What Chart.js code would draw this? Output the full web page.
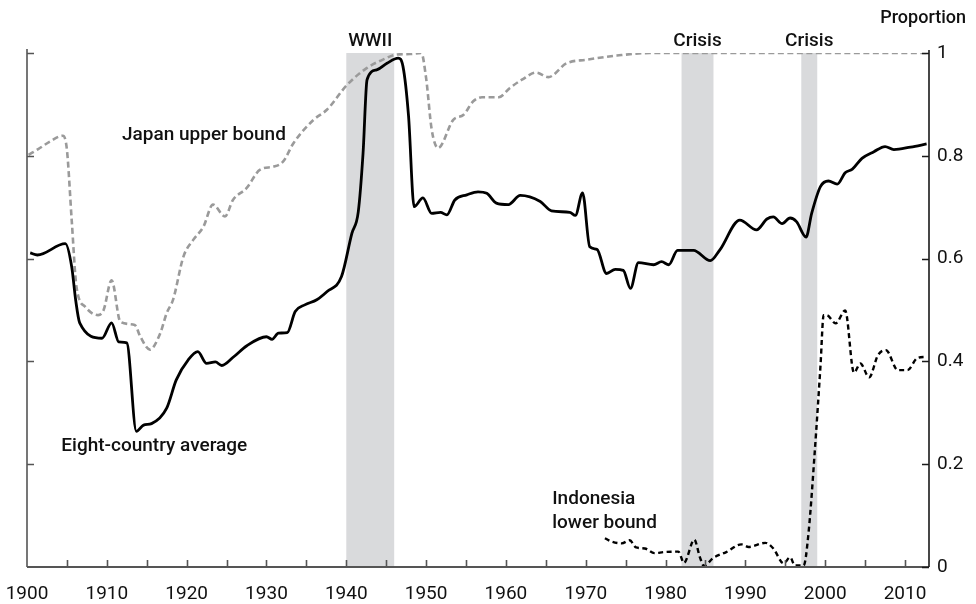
<!DOCTYPE html>
<html>
<head>
<meta charset="utf-8">
<script src="https://cdn.jsdelivr.net/npm/chart.js@4.4.0/dist/chart.umd.min.js"></script>
<style>
  html, body { margin: 0; padding: 0; background: #fff; }
  #chart { display: block; }
</style>
</head>
<body>
<canvas id="chart" width="976" height="604"></canvas>
<script>
// Eight-country average (solid black)
const avgYears = [1900.4, 1901.3, 1904.8, 1905.6, 1906.1, 1906.6, 1909.4, 1910.6, 1911.5, 1912.5,
  1913.7, 1914.6, 1915.6, 1917.5, 1918.7, 1920.2, 1921.4, 1922.5, 1923.6, 1924.4,
  1925.9, 1927.5, 1930, 1930.7, 1931.5, 1932.6, 1933.6, 1934.8, 1936.3, 1937.6,
  1939.4, 1940.7, 1941.5, 1942.1, 1942.6, 1943.8, 1945.1, 1946.5, 1947.1, 1947.8,
  1948.5, 1949.6, 1950.7, 1951.8, 1952.6, 1953.6, 1955.1, 1956.5, 1957.6, 1958.8,
  1960.3, 1961.8, 1964.3, 1965.7, 1968, 1968.7, 1969.6, 1970.5, 1971.4, 1972.6,
  1973.7, 1974.7, 1975.6, 1976.6, 1978.5, 1979.5, 1980.4, 1981.5, 1983.5, 1985.6,
  1986.8, 1989.3, 1991.4, 1992.7, 1993.5, 1994.6, 1995.6, 1996.4, 1997.6, 1998.3,
  1999.4, 2000.4, 2001.5, 2002.5, 2003.4, 2004.6, 2006.1, 2007.5, 2008.6, 2010.7, 2012.7];
const avgValues = [0.611, 0.607, 0.629, 0.584, 0.519, 0.475, 0.445, 0.475, 0.438, 0.436,
  0.264, 0.276, 0.279, 0.309, 0.364, 0.403, 0.419, 0.396, 0.399, 0.392,
  0.409, 0.43, 0.448, 0.443, 0.455, 0.456, 0.497, 0.51, 0.52, 0.536,
  0.565, 0.649, 0.691, 0.805, 0.948, 0.967, 0.98, 0.99, 0.974, 0.877,
  0.701, 0.718, 0.688, 0.69, 0.685, 0.714, 0.724, 0.73, 0.727, 0.708,
  0.705, 0.723, 0.711, 0.693, 0.69, 0.684, 0.728, 0.623, 0.618, 0.571,
  0.579, 0.577, 0.542, 0.592, 0.588, 0.594, 0.588, 0.616, 0.616, 0.596,
  0.617, 0.675, 0.656, 0.677, 0.681, 0.668, 0.679, 0.672, 0.642, 0.688,
  0.74, 0.751, 0.745, 0.767, 0.774, 0.795, 0.808, 0.818, 0.812, 0.817, 0.823];

// Japan upper bound (grey dashed)
const japanYears = [1900.2, 1901.4, 1902.9, 1904.5, 1905, 1905.6, 1906.2, 1907.3, 1908.9, 1909.6,
  1910.6, 1911.7, 1913.5, 1914.2, 1915.4, 1916.7, 1917.5, 1918.3, 1919.6, 1920.8,
  1922.1, 1923.3, 1924.8, 1925.8, 1927.5, 1929.2, 1930.9, 1932.1, 1933.4, 1935.9,
  1937.6, 1940.1, 1942.6, 1944.7, 1946.3, 1948, 1949.4, 1950, 1950.7, 1951.5,
  1953.4, 1954.7, 1955.9, 1957, 1959.1, 1960.5, 1962, 1963.8, 1965.3, 1967.6,
  1970.1, 1973.9, 1978, 2013];
const japanValues = [0.802, 0.813, 0.828, 0.839, 0.812, 0.675, 0.545, 0.506, 0.49, 0.5,
  0.558, 0.477, 0.471, 0.448, 0.423, 0.455, 0.494, 0.52, 0.604, 0.636,
  0.662, 0.705, 0.682, 0.714, 0.737, 0.773, 0.779, 0.789, 0.825, 0.87,
  0.89, 0.938, 0.971, 0.988, 0.997, 0.998, 1.0, 0.951, 0.851, 0.815,
  0.87, 0.88, 0.906, 0.914, 0.914, 0.932, 0.948, 0.962, 0.953, 0.98,
  0.987, 0.995, 1.0, 1.0];

// Indonesia lower bound (black dashed)
const indoYears = [1972.4, 1973.3, 1974.5, 1975.5, 1976.3, 1977.4, 1978.6, 1979.8, 1981.6, 1982.3,
  1983.6, 1984.3, 1984.8, 1986, 1987.6, 1989.5, 1990.4, 1992.5, 1993.5, 1994.8,
  1995.6, 1996.2, 1997.3, 1997.9, 1998.7, 1999.4, 1999.8, 2000.2, 2001.3, 2002.5,
  2003.6, 2004.4, 2005.5, 2006.6, 2007.6, 2009.1, 2010.3, 2011.5, 2012.6];
const indoValues = [0.056, 0.049, 0.046, 0.052, 0.038, 0.036, 0.027, 0.029, 0.03, 0.008,
  0.053, 0.019, 0.002, 0.018, 0.029, 0.044, 0.039, 0.047, 0.036, 0.007,
  0.019, 0.003, 0.003, 0.065, 0.227, 0.39, 0.49, 0.49, 0.474, 0.499,
  0.378, 0.396, 0.369, 0.412, 0.422, 0.383, 0.383, 0.406, 0.409];

// shaded periods
const shadeFrom = [1940, 1982, 1997];
const shadeTo = [1946, 1986, 1999];
const shadeLabels = ['WWII', 'Crisis', 'Crisis'];

// axis ticks
const xTickYears = [1900, 1905, 1910, 1915, 1920, 1925, 1930, 1935, 1940, 1945, 1950, 1955,
  1960, 1965, 1970, 1975, 1980, 1985, 1990, 1995, 2000, 2005, 2010];
const xTickLabels = ['1900', '', '1910', '', '1920', '', '1930', '', '1940', '', '1950', '',
  '1960', '', '1970', '', '1980', '', '1990', '', '2000', '', '2010'];
const yTickValues = [0, 0.2, 0.4, 0.6, 0.8, 1];
const yTickLabels = ['0', '0.2', '0.4', '0.6', '0.8', '1'];

// series labels placed in data coordinates
const notes = [
  { text: 'Japan upper bound', year: 1911.9, value: 0.831 },
  { text: 'Eight-country average', year: 1904.3, value: 0.225 },
  { text: 'Indonesia', year: 1965.8, value: 0.122 },
  { text: 'lower bound', year: 1965.8, value: 0.075 },
];

const toPoints = (xs, ys) => xs.map((x, i) => ({ x, y: ys[i] }));

const decor = {
  id: 'decor',
  beforeDatasetsDraw(chart) {
    const { ctx, scales: { x, y } } = chart;
    const top = y.getPixelForValue(1), bottom = y.getPixelForValue(0);
    ctx.save();
    ctx.fillStyle = '#d9dadc';
    shadeFrom.forEach((f, i) => {
      const x0 = x.getPixelForValue(f), x1 = x.getPixelForValue(shadeTo[i]);
      ctx.fillRect(x0, top, x1 - x0, bottom - top);
    });
    ctx.restore();
  },
  afterDatasetsDraw(chart) {
    const { ctx, chartArea: a, scales: { x, y } } = chart;
    const tick = 7;
    ctx.save();
    ctx.lineWidth = 1.6;

    // left axis (no labels, inward ticks)
    ctx.strokeStyle = '#555';
    ctx.beginPath();
    ctx.moveTo(a.left, a.top - 4);
    ctx.lineTo(a.left, a.bottom);
    yTickValues.forEach(v => {
      if (v === 0) return;
      const py = Math.round(y.getPixelForValue(v)) + 0.5;
      ctx.moveTo(a.left, py);
      ctx.lineTo(a.left + tick, py);
    });
    ctx.stroke();

    // bottom axis
    ctx.lineWidth = 2;
    ctx.beginPath();
    ctx.moveTo(a.left, a.bottom);
    ctx.lineTo(a.right, a.bottom);
    ctx.stroke();
    ctx.lineWidth = 1.6;
    ctx.beginPath();
    xTickYears.forEach(yr => {
      if (yr === 1900) return;
      const px = Math.round(x.getPixelForValue(yr)) + 0.5;
      ctx.moveTo(px, a.bottom);
      ctx.lineTo(px, a.bottom - tick);
    });
    ctx.stroke();

    // right axis
    ctx.strokeStyle = '#1a1a1a';
    ctx.beginPath();
    ctx.moveTo(a.right, a.top - 3);
    ctx.lineTo(a.right, a.bottom);
    yTickValues.forEach(v => {
      const py = Math.round(y.getPixelForValue(v)) + 0.5;
      ctx.moveTo(a.right, py);
      ctx.lineTo(a.right - tick, py);
    });
    ctx.stroke();

    // x tick labels
    ctx.fillStyle = '#111';
    ctx.font = '19px Roboto';
    ctx.textBaseline = 'alphabetic';
    ctx.textAlign = 'center';
    xTickYears.forEach((yr, i) => {
      if (xTickLabels[i]) ctx.fillText(xTickLabels[i], x.getPixelForValue(yr), a.bottom + 32);
    });

    // annotations
    ctx.font = '500 19px Roboto';
    shadeLabels.forEach((t, i) => {
      const cx = (x.getPixelForValue(shadeFrom[i]) + x.getPixelForValue(shadeTo[i])) / 2;
      ctx.fillText(t, cx, a.top - 7);
    });
    ctx.textAlign = 'left';
    notes.forEach(n => {
      ctx.fillText(n.text, x.getPixelForValue(n.year), y.getPixelForValue(n.value));
    });
    ctx.textAlign = 'right';
    ctx.font = '500 18px Roboto';
    ctx.fillText('Proportion', chart.width - 10, 23);
    ctx.restore();
  }
};

new Chart(document.getElementById('chart'), {
  type: 'line',
  data: {
    datasets: [
      {
        label: 'Eight-country average',
        data: toPoints(avgYears, avgValues),
        borderColor: '#000',
        borderWidth: 2.8,
        pointRadius: 0,
        cubicInterpolationMode: 'monotone',
      },
      {
        label: 'Indonesia lower bound',
        data: toPoints(indoYears, indoValues),
        borderColor: '#000',
        borderWidth: 2.4,
        borderDash: [5, 3.5],
        pointRadius: 0,
        cubicInterpolationMode: 'monotone',
      },
      {
        label: 'Japan upper bound',
        data: toPoints(japanYears, japanValues),
        borderColor: '#9a9a9a',
        borderWidth: 2.6,
        borderDash: [6, 3.5],
        pointRadius: 0,
        cubicInterpolationMode: 'monotone',
      },
    ],
  },
  options: {
    responsive: false,
    animation: false,
    devicePixelRatio: 1,
    layout: { padding: { left: 27, top: 53, right: 0, bottom: 0 } },
    plugins: { legend: { display: false }, tooltip: { enabled: false } },
    scales: {
      x: {
        type: 'linear',
        min: 1900,
        max: 2013,
        grid: { display: false, drawTicks: false },
        border: { display: false },
        afterBuildTicks: s => { s.ticks = xTickYears.map(v => ({ value: v })); },
        afterFit: s => { s.height = 37; s.paddingLeft = 0; s.paddingRight = 0; },
        ticks: { display: false },
      },
      y: {
        position: 'right',
        min: 0,
        max: 1,
        grid: { display: false, drawTicks: false },
        border: { display: false },
        afterBuildTicks: s => { s.ticks = yTickValues.map(v => ({ value: v })); },
        afterFit: s => { s.width = 47; s.paddingTop = 0; s.paddingBottom = 0; },
        ticks: {
          padding: 8,
          color: '#111',
          font: { family: 'Roboto', size: 19 },
          callback: (v, i) => yTickLabels[i],
        },
      },
    },
  },
  plugins: [decor],
});
</script>
</body>
</html>
